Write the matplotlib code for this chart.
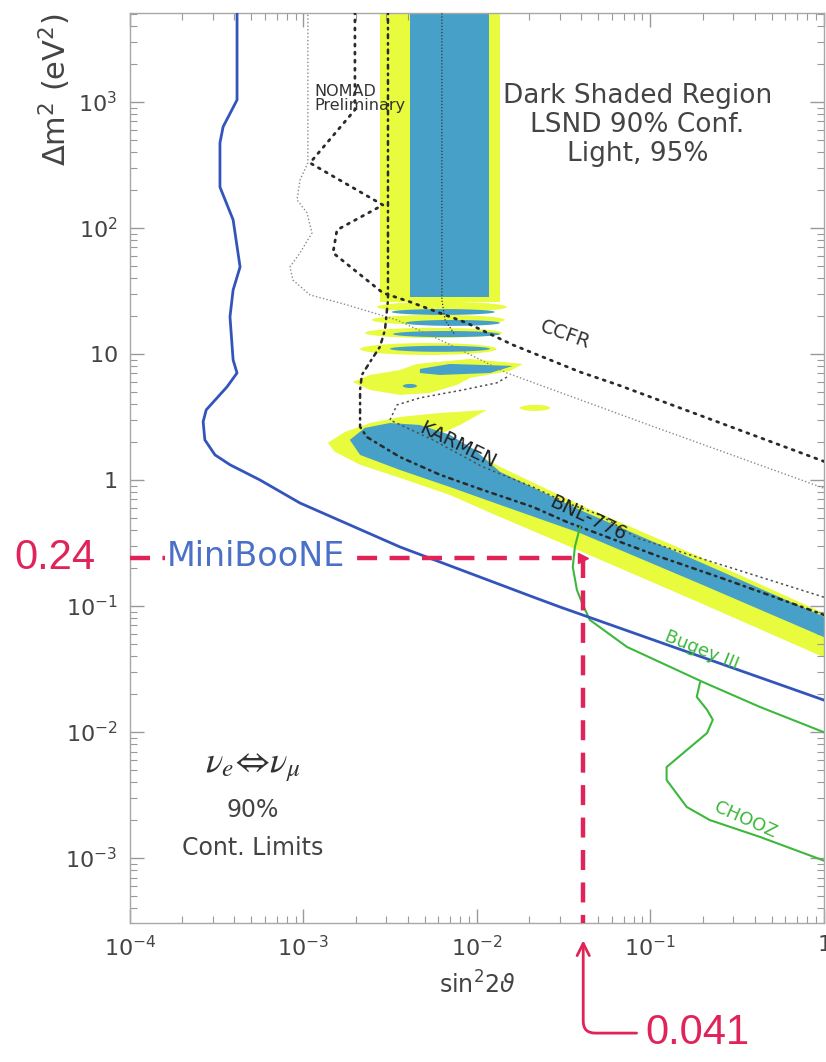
import numpy as np
import matplotlib.pyplot as plt
from matplotlib.ticker import FixedLocator, FixedFormatter, LogLocator, NullFormatter

# ---------------- data (sin^2 2theta, delta m^2 in eV^2) ----------------

# MiniBooNE expected 90% sensitivity
miniboone_sin2 = [4.14e-4, 4.14e-4, 3.44e-4, 3.30e-4, 3.30e-4, 3.93e-4, 4.31e-4, 3.93e-4,
                  3.77e-4, 3.93e-4, 4.14e-4, 3.62e-4, 2.75e-4, 2.64e-4, 2.70e-4, 3.09e-4,
                  3.77e-4, 5.61e-4, 9.55e-4, 3.60e-3, 2.10e-2, 3.01e-2, 1.05]
miniboone_dm2 = [6000, 1037, 634, 473, 211, 116, 49.0, 32.2,
                 19.7, 8.96, 7.06, 5.47, 3.60, 2.90, 2.08, 1.58,
                 1.32, 1.00, 0.656, 0.294, 0.118, 0.0982, 0.0175]

# LSND 95% (light) region: high-dm2 column, stripes, blob and main band
lsnd95_column = (2.76e-3, 1.36e-2, 26.0, 6000)
lsnd95_stripes = [(2.65e-3, 1.49e-2, 21.5, 25.9),
                  (2.48e-3, 1.45e-2, 17.0, 20.4),
                  (2.26e-3, 1.40e-2, 13.4, 16.1),
                  (2.12e-3, 1.30e-2, 9.82, 12.2)]
lsnd95_blob_sin2 = [1.93e-3, 2.42e-3, 3.60e-3, 4.51e-3, 9.12e-3, 1.84e-2,
                    1.55e-2, 9.12e-3, 7.67e-3, 5.36e-3, 3.60e-3, 2.42e-3]
lsnd95_blob_dm2 = [6.00, 6.81, 7.46, 8.33, 9.13, 8.33,
                   7.33, 6.45, 5.68, 4.90, 4.73, 5.18]
lsnd95_island = (1.77e-2, 2.64e-2, 3.53, 3.94)
lsnd95_band_sin2 = [1.38e-3, 1.73e-3, 2.42e-3, 3.60e-3, 6.12e-3, 1.14e-2, 7.98e-3,
                    6.37e-3, 9.12e-3, 1.36e-2, 3.93e-2, 0.193, 1.05,
                    1.05, 0.193, 3.93e-2, 1.36e-2, 6.98e-3, 3.60e-3, 2.12e-3, 1.52e-3]
lsnd95_band_dm2 = [1.97, 2.40, 2.83, 3.16, 3.40, 3.59, 2.73,
                   2.36, 1.73, 1.27, 0.634, 0.245, 0.085,
                   0.038, 0.106, 0.273, 0.508, 0.760, 1.04, 1.32, 1.67]

# LSND 90% (dark) region
lsnd90_column = (4.11e-3, 1.17e-2, 28.3, 6000)
lsnd90_stripes = [(3.22e-3, 1.27e-2, 20.4, 22.7),
                  (3.86e-3, 1.36e-2, 16.7, 18.6),
                  (3.28e-3, 1.36e-2, 13.6, 15.2),
                  (3.15e-3, 1.19e-2, 10.4, 11.6)]
lsnd90_blob_sin2 = [4.69e-3, 6.98e-3, 1.61e-2, 1.19e-2, 6.12e-3, 4.69e-3]
lsnd90_blob_dm2 = [7.60, 8.33, 8.03, 7.06, 6.81, 7.06]
lsnd90_dot = (3.74e-3, 4.51e-3, 5.37, 5.78)
lsnd90_band_sin2 = [1.85e-3, 2.26e-3, 3.15e-3, 4.69e-3, 6.98e-3, 9.73e-3, 1.36e-2,
                    3.93e-2, 0.193, 1.05,
                    1.05, 0.193, 3.93e-2, 1.36e-2, 6.98e-3, 3.60e-3, 2.12e-3]
lsnd90_band_dm2 = [2.08, 2.59, 2.83, 2.73, 2.28, 1.73, 1.16,
                   0.578, 0.223, 0.080,
                   0.055, 0.150, 0.379, 0.634, 0.879, 1.20, 1.58]

# excluded-region limits
ccfr_sin2 = [1.98e-3, 1.98e-3, 1.09e-3, 2.87e-3, 1.56e-3, 1.48e-3, 2.87e-3, 4.11e-3,
             8.75e-3, 1.61e-2, 3.93e-2, 6.50e-2, 1.05]
ccfr_dm2 = [6000, 865, 328, 152, 96.4, 63.4, 30.5, 25.9,
            17.6, 11.8, 7.19, 5.68, 1.37]

karmen_sin2 = [3.07e-3, 3.07e-3, 2.95e-3, 2.76e-3, 2.42e-3, 2.17e-3, 2.12e-3, 2.12e-3,
               2.32e-3, 3.60e-3, 6.12e-3, 1.08e-2, 2.10e-2, 3.30e-2, 0.114, 0.276, 1.05]
karmen_dm2 = [6000, 26.8, 15.5, 11.4, 8.64, 6.81, 5.18, 2.64,
              2.19, 1.52, 1.10, 0.833, 0.611, 0.464, 0.245, 0.161, 0.083]

bnl776_sin2 = [1.49e-2, 1.30e-2, 8.30e-3, 4.69e-3, 3.46e-3, 3.15e-3, 5.57e-3, 1.08e-2,
               2.10e-2, 3.30e-2, 5.12e-2, 8.36e-2, 0.193, 0.428, 1.05]
bnl776_dm2 = [6.56, 5.89, 5.18, 4.48, 3.94, 2.99, 2.08, 1.27,
              0.879, 0.656, 0.527, 0.347, 0.240, 0.170, 0.115]

nomad_sin2 = [1.06e-3, 1.06e-3, 9.55e-4, 9.18e-4, 1.047e-3, 1.12e-3, 9.55e-4, 8.36e-4,
              8.69e-4, 1.09e-3, 1.78e-3, 3.46e-3, 6.71e-3, 1.49e-2, 0.105, 1.05]
nomad_dm2 = [6000, 328, 240, 167, 132, 91.2, 63.4, 49.0,
             38.6, 29.4, 24.5, 18.6, 12.2, 7.06, 2.64, 0.84]

inner_sin2 = [6.28e-3, 6.28e-3, 6.55e-3, 7.46e-3]
inner_dm2 = [6000, 26.8, 18.6, 14.2]

bugey_sin2 = [3.93e-2, 3.67e-2, 3.57e-2, 3.77e-2, 4.08e-2, 4.48e-2, 7.33e-2, 0.201, 0.428, 1.05]
bugey_dm2 = [0.424, 0.294, 0.204, 0.134, 0.102, 0.0774, 0.0473, 0.0249, 0.0158, 0.0097]

chooz_sin2 = [0.193, 0.185, 0.212, 0.229, 0.212, 0.124, 0.124, 0.162, 0.220, 0.428, 1.05]
chooz_dm2 = [0.0245, 0.0190, 0.0150, 0.0125, 0.0098, 0.00527, 0.00416, 0.00254,
             0.00200, 0.00147, 0.00093]

# MiniBooNE reach quoted on the plot
reach_sin2 = 0.041
reach_dm2 = 0.24

x_ticks = [1e-4, 1e-3, 1e-2, 1e-1, 1]
x_labels = [r'$10^{-4}$', r'$10^{-3}$', r'$10^{-2}$', r'$10^{-1}$', r'$1$']
y_ticks = [1e-3, 1e-2, 1e-1, 1, 10, 1e2, 1e3]
y_labels = [r'$10^{-3}$', r'$10^{-2}$', r'$10^{-1}$', r'$1$', r'$10$', r'$10^{2}$', r'$10^{3}$']

LIGHT = '#e8fb3c'
DARK = '#46a0c7'
RED = '#e0245a'
GREEN = '#3cb83c'


def lens(x0, x1, y0, y1, n=48):
    # ellipse in log-log space spanning x0..x1, y0..y1
    t = np.linspace(0, 2 * np.pi, n)
    cx, hx = (np.log10(x0) + np.log10(x1)) / 2, (np.log10(x1) - np.log10(x0)) / 2
    cy, hy = (np.log10(y0) + np.log10(y1)) / 2, (np.log10(y1) - np.log10(y0)) / 2
    return 10 ** (cx + hx * np.cos(t)), 10 ** (cy + hy * np.sin(t))


def column(x0, x1, y0, y1):
    return [x0, x1, x1, x0], [y0, y0, y1, y1]


fig = plt.figure(figsize=(8.26, 10.62), dpi=100)
ax = fig.add_axes([0.1574, 0.1309, 0.840, 0.8569])
ax.set_xscale('log')
ax.set_yscale('log')
ax.set_xlim(1e-4, 1)
ax.set_ylim(3.05e-4, 5080)

# LSND regions
ax.fill(*column(*lsnd95_column), color=LIGHT, lw=0, zorder=1)
for s in lsnd95_stripes:
    ax.fill(*lens(*s), color=LIGHT, lw=0, zorder=1)
ax.fill(lsnd95_blob_sin2, lsnd95_blob_dm2, color=LIGHT, lw=0, zorder=1)
ax.fill(*lens(*lsnd95_island), color=LIGHT, lw=0, zorder=1)
ax.fill(lsnd95_band_sin2, lsnd95_band_dm2, color=LIGHT, lw=0, zorder=1)

ax.fill(*column(*lsnd90_column), color=DARK, lw=0, zorder=2)
for s in lsnd90_stripes:
    ax.fill(*lens(*s), color=DARK, lw=0, zorder=2)
ax.fill(lsnd90_blob_sin2, lsnd90_blob_dm2, color=DARK, lw=0, zorder=2)
ax.fill(*lens(*lsnd90_dot), color=DARK, lw=0, zorder=2)
ax.fill(lsnd90_band_sin2, lsnd90_band_dm2, color=DARK, lw=0, zorder=2)

# exclusion curves
ax.plot(nomad_sin2, nomad_dm2, color='#8a8a8a', lw=1.0, ls=(0, (1, 1.6)), zorder=3)
ax.plot(inner_sin2, inner_dm2, color='#333333', lw=0.9, ls=(0, (1, 1.5)), zorder=3)
ax.plot(ccfr_sin2, ccfr_dm2, color='#2a2a2a', lw=2.0, ls=(0, (0.7, 2.2)),
        dash_capstyle='round', zorder=3)
ax.plot(karmen_sin2, karmen_dm2, color='#2a2a2a', lw=1.8, ls=(0, (1.5, 2, 0.6, 2)),
        dash_capstyle='round', zorder=3)
ax.plot(bnl776_sin2, bnl776_dm2, color='#505050', lw=1.1, ls=(0, (1.5, 2)), zorder=3)
ax.plot(bugey_sin2, bugey_dm2, color=GREEN, lw=1.5, zorder=4)
ax.plot(chooz_sin2, chooz_dm2, color=GREEN, lw=1.5, zorder=4)
ax.plot(miniboone_sin2, miniboone_dm2, color='#3355bb', lw=2.0, zorder=5)

# quoted reach
ax.plot([1e-4, reach_sin2], [reach_dm2, reach_dm2], color=RED, lw=3.2,
        ls=(0, (4.5, 2.8)), zorder=6)
ax.plot([reach_sin2, reach_sin2], [reach_dm2, 3.05e-4], color=RED, lw=3.2,
        ls=(0, (4.5, 2.8)), zorder=6)
ax.plot([reach_sin2], [reach_dm2], marker='>', color=RED, ms=7, zorder=6)

# axes styling
for sp in ax.spines.values():
    sp.set_color('#a8a8a8')
    sp.set_linewidth(1.0)
ax.tick_params(which='both', direction='in', top=True, right=True, color='#999999')
ax.tick_params(which='major', length=10, width=1.0, labelsize=16, labelcolor='#444444', pad=9)
ax.tick_params(which='minor', length=5, width=0.8)
ax.xaxis.set_major_locator(FixedLocator(x_ticks))
ax.xaxis.set_major_formatter(FixedFormatter(x_labels))
ax.yaxis.set_major_locator(FixedLocator(y_ticks))
ax.yaxis.set_major_formatter(FixedFormatter(y_labels))
ax.xaxis.set_minor_locator(LogLocator(base=10, subs=np.arange(2, 10), numticks=20))
ax.yaxis.set_minor_locator(LogLocator(base=10, subs=np.arange(2, 10), numticks=20))
ax.xaxis.set_minor_formatter(NullFormatter())
ax.yaxis.set_minor_formatter(NullFormatter())

ax.set_xlabel(r'sin$^2$2$\vartheta$', fontsize=17, color='#444444', labelpad=8)
fig.text(55 / 826, 1 - 90 / 1062, r'$\Delta$m$^2$ (eV$^2$)', rotation=90,
         fontsize=22, color='#444444', ha='center', va='center')

# labels on the plot
ax.text(8.4e-2, 650, 'Dark Shaded Region\nLSND 90% Conf.\nLight, 95%', fontsize=19,
        color='#444444', ha='center', va='center', linespacing=1.15, zorder=7)
ax.text(1.16e-3, 1066, 'NOMAD\nPreliminary', fontsize=11.5, color='#333333',
        ha='left', va='center', linespacing=0.9, zorder=7)
ax.text(3.21e-2, 14.2, 'CCFR', fontsize=14, color='#333333', rotation=-20,
        ha='center', va='center', zorder=7)
ax.text(7.76e-3, 1.90, 'KARMEN', fontsize=14, color='#222222', rotation=-26,
        ha='center', va='center', zorder=7)
ax.text(4.36e-2, 0.499, 'BNL-776', fontsize=14, color='#222222', rotation=-25,
        ha='center', va='center', zorder=7)
ax.text(0.198, 0.0448, 'Bugey III', fontsize=13, color=GREEN, rotation=-22,
        ha='center', va='center', zorder=7)
ax.text(0.351, 0.0020, 'CHOOZ', fontsize=13, color=GREEN, rotation=-24,
        ha='center', va='center', zorder=7)
ax.text(5.12e-4, 5.27e-3, r'$\nu_e\!\Leftrightarrow\!\nu_\mu$', fontsize=26,
        color='#333333', ha='center', va='center', math_fontfamily='stix', zorder=7)
ax.text(5.12e-4, 2.40e-3, '90%', fontsize=17, color='#444444',
        ha='center', va='center', zorder=7)
ax.text(5.12e-4, 1.20e-3, 'Cont. Limits', fontsize=17, color='#444444',
        ha='center', va='center', zorder=7)
ax.text(1.63e-4, 0.245, 'MiniBooNE', fontsize=24, color='#4a70c8', ha='left',
        va='center', zorder=7,
        bbox=dict(boxstyle='square,pad=0.05', fc='white', ec='none'))

# quoted values, hand-written style in red
ax.text(3.7e-5, reach_dm2, '0.24', fontsize=30, color=RED, ha='center', va='center',
        family='Liberation Sans', clip_on=False)
ax.annotate('0.041', xy=(reach_sin2, -0.019), xycoords=('data', 'axes fraction'),
            xytext=(0.093, -0.121), textcoords=('data', 'axes fraction'),
            fontsize=30, color=RED, family='Liberation Sans', ha='left', va='center',
            annotation_clip=False,
            arrowprops=dict(arrowstyle='->', color=RED, lw=2.0, mutation_scale=22,
                            shrinkA=4, shrinkB=0,
                            connectionstyle='angle,angleA=0,angleB=90,rad=12'))

fig.savefig('out.png', dpi=100)
